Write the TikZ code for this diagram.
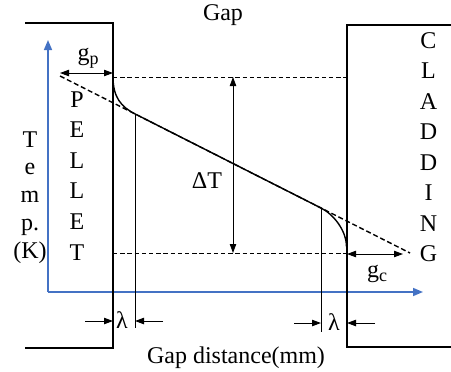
\documentclass[tikz,border=0pt]{standalone}
\usepackage{fontspec}
\setmainfont{Liberation Serif}
\usetikzlibrary{arrows.meta}
\definecolor{axisblue}{HTML}{4472C4}
\newcommand{\lowsub}[1]{\raisebox{-0.45ex}{\fontsize{9}{10}\selectfont #1}}
\tikzset{
    wall/.style={draw=black, line width=0.75pt},
    profile/.style={draw=black, line width=0.7pt},
    thinline/.style={draw=black, line width=0.5pt},
    gapline/.style={draw=black, line width=0.5pt, dash pattern=on 2.2pt off 1.4pt},
    extline/.style={draw=black, line width=0.7pt, dash pattern=on 2.5pt off 1.4pt},
    axisline/.style={-{Triangle[length=5pt,width=4pt]}, draw=axisblue, line width=0.8pt},
    dimarrow/.style={{Triangle[length=4.5pt,width=3.2pt]}-{Triangle[length=4.5pt,width=3.2pt]}, line width=0.45pt},
    lamarrow/.style={-{Triangle[length=4.5pt,width=3.2pt]}, line width=0.5pt},
    txt/.style={font=\fontsize{12}{14}\selectfont, inner sep=0pt, anchor=base}
}

\begin{document}
\begin{tikzpicture}[x=0.5pt, y=-0.5pt]
    \useasboundingbox (0,0) rectangle (451,371);

    % pellet and cladding outlines
    \coordinate (pTL) at (25,23);
    \coordinate (pTR) at (113,23);
    \coordinate (pBR) at (113,348);
    \coordinate (pBL) at (25,348);
    \coordinate (cTR) at (451,25);
    \coordinate (cTL) at (347,25);
    \coordinate (cBL) at (347,347);
    \coordinate (cBR) at (451,347);

    % axes
    \coordinate (origin) at (48,292);
    \coordinate (yend) at (48,40);
    \coordinate (xend) at (423,292);
    \draw[axisline] (origin) -- (yend);
    \draw[axisline] (origin) -- (xend);

    \draw[wall] (pTL) -- (pTR) -- (pBR) -- (pBL);
    \draw[wall] (cTR) -- (cTL) -- (cBL) -- (cBR);

    % temperature levels at the surfaces
    \coordinate (hotS) at (113,77);
    \coordinate (coldS) at (347,253);
    \draw[gapline] (hotS) -- (hotS -| cTL);
    \draw[gapline] (coldS -| pTR) -- (coldS);

    % extrapolated and real profile
    \coordinate (extA) at (60,76);
    \coordinate (extB) at (410,253);
    \coordinate (jumpA) at (135,113.9);
    \coordinate (jumpB) at (321,208);
    \coordinate (cladS) at (346.5,247);
    \draw[extline] (extA) -- (extB);
    \draw[profile] (hotS) .. controls (113,97) and (121,106.8) .. (jumpA)
        -- (jumpB) .. controls (333,214) and (346.5,230) .. (cladS);

    % jump distances
    \coordinate (lamAbot) at (135,328);
    \coordinate (lamBbot) at (321,332);
    \draw[thinline] (jumpA) -- (lamAbot);
    \draw[thinline] (jumpB) -- (lamBbot);

    \coordinate (lamAl) at (85,321);
    \coordinate (lamAr) at (163,321);
    \coordinate (lamBl) at (294,323);
    \coordinate (lamBr) at (375,323);
    \draw[lamarrow] (lamAl) -- (lamAl -| pTR);
    \draw[lamarrow] (lamAr) -- (lamAr -| jumpA);
    \draw[lamarrow] (lamBl) -- (lamBl -| jumpB);
    \draw[lamarrow] (lamBr) -- (lamBr -| cTL);

    % gap widths and temperature drop
    \coordinate (gpL) at (60,73);
    \coordinate (gcR) at (403,254);
    \coordinate (dT) at (233,165);
    \draw[dimarrow] (gpL) -- (gpL -| pTR);
    \draw[dimarrow] (gcR -| cTL) -- (gcR);
    \draw[dimarrow, line width=0.4pt] (dT |- hotS) -- (dT |- coldS);

    % labels
    \node[txt] (gap) at (223,20) {Gap};
    \node[txt] (gapdist) at (236,363) {Gap distance(mm)};
    \node[txt] (gp) at (88,60) {g\lowsub{p}};
    \node[txt] (gc) at (377,277) {g\lowsub{c}};
    \node[txt] (dTlabel) at (207,188) {ΔT};
    \node[txt] (lamA) at (122,328) {λ};
    \node[txt] (lamB) at (334,330) {λ};

    \foreach \ch [count=\i from 0] in {T,e,m,p.,(K)}
        \node[txt] (temp\i) at (30,{147+27.75*\i}) {\ch};
    \foreach \ch [count=\i from 0] in {P,E,L,L,E,T}
        \node[txt] (pellet\i) at (77,{107+30.6*\i}) {\ch};
    \foreach \ch [count=\i from 0] in {C,L,A,D,D,I,N,G}
        \node[txt] (clad\i) at (428.5,{48+30.57*\i}) {\ch};
\end{tikzpicture}
\end{document}
